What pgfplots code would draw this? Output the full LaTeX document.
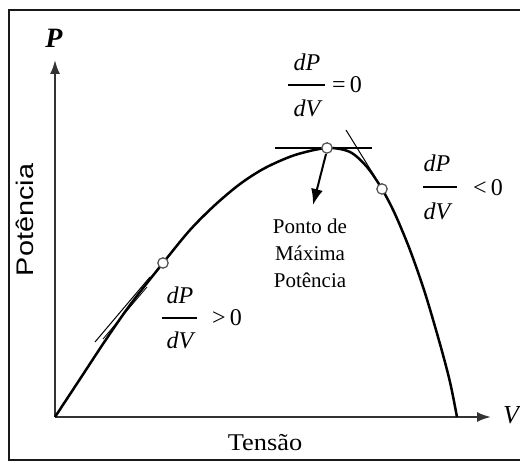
\documentclass[border=0pt]{standalone}
\usepackage{pgfplots}
\pgfplotsset{compat=1.18}
\usepackage{fontspec}
\setmainfont{Liberation Serif}
\newfontfamily\sansfont{Liberation Sans}
\usetikzlibrary{arrows.meta}

\begin{document}
\begin{tikzpicture}
\begin{axis}[
  scale only axis, width=218pt, height=178.5pt,
  xmin=0, xmax=436, ymin=0, ymax=357,
  axis lines=left,
  axis line style={line width=1pt, black!80, -{Latex[length=7pt,width=5pt]}},
  xtick=\empty, ytick=\empty,
  clip=false,
]
  % page extent and outer frame
  \coordinate (bbLL) at (axis cs:-55,-45);
  \coordinate (bbUR) at (axis cs:465,417);
  \draw[line width=1.2pt, black!90] (axis cs:-46,-43) rectangle (axis cs:490,407);

  % P-V curve of the panel
  \addplot[smooth, line width=1.25pt, black] coordinates {
    (0,0) (25,38) (50,76) (75,112) (108,154) (135,187) (160,212)
    (185,233) (210,249) (240,262) (272,269) (295,265) (312,250)
    (327,228) (340,203) (355,167) (370,124) (385,73) (395,35) (402,0)
  };

  % tangent lines
  \draw[line width=1.1pt] (axis cs:220,269) -- (axis cs:317,269);
  \draw[line width=0.5pt] (axis cs:291,287) -- (axis cs:320,240);
  \draw[line width=0.5pt] (axis cs:40,75) -- (axis cs:95,140);
  \draw[line width=0.4pt] (axis cs:48,78) -- (axis cs:92,130);

  % operating points
  \addplot[only marks, mark=*, mark size=2.6pt,
           mark options={fill=white, draw=black!70, line width=0.6pt}]
    coordinates {(108,154) (272,269) (327,228)};

  % maximum power point annotation
  \draw[line width=1pt, -{Latex[length=8pt,width=6pt]}]
    (axis cs:271,263) -- (axis cs:258,212);
  \node[align=center, font=\fontsize{10.5}{13.5}\selectfont]
    at (axis cs:255,164) {Ponto de\\Máxima\\Potência};

  % dP/dV = 0
  \node[font=\fontsize{12}{14}\selectfont\itshape] at (axis cs:252,355) {dP};
  \draw[line width=0.8pt] (axis cs:233,332) -- (axis cs:270,332);
  \node[font=\fontsize{12}{14}\selectfont\itshape] at (axis cs:252,309) {dV};
  \node[font=\fontsize{12}{14}\selectfont] at (axis cs:292,332) {=\,0};

  % dP/dV < 0
  \node[font=\fontsize{12}{14}\selectfont\itshape] at (axis cs:382,254) {dP};
  \draw[line width=0.8pt] (axis cs:368,230) -- (axis cs:402,230);
  \node[font=\fontsize{12}{14}\selectfont\itshape] at (axis cs:382,206) {dV};
  \node[font=\fontsize{12}{14}\selectfont] at (axis cs:433,229) {<\,0};

  % dP/dV > 0
  \node[font=\fontsize{12}{14}\selectfont\itshape] at (axis cs:125,122) {dP};
  \draw[line width=0.8pt] (axis cs:107,99) -- (axis cs:142,99);
  \node[font=\fontsize{12}{14}\selectfont\itshape] at (axis cs:125,77) {dV};
  \node[font=\fontsize{12}{14}\selectfont] at (axis cs:172,99) {>\,0};

  % axis names
  \node[font=\fontsize{14}{16}\selectfont\bfseries\itshape] at (axis cs:-1,379) {P};
  \node[font=\fontsize{13}{15}\selectfont\itshape] at (axis cs:456,2) {V};
  \node[font=\fontsize{12}{14}\selectfont, xscale=1.1] at (axis cs:210,-26) {Tensão};
  \node[font=\sansfont\fontsize{12}{14}\selectfont, rotate=90, xscale=1.2]
    at (axis cs:-30,197) {Potência};
\end{axis}
\pgfresetboundingbox
\path[use as bounding box] (bbLL) rectangle (bbUR);
\end{tikzpicture}
\end{document}
